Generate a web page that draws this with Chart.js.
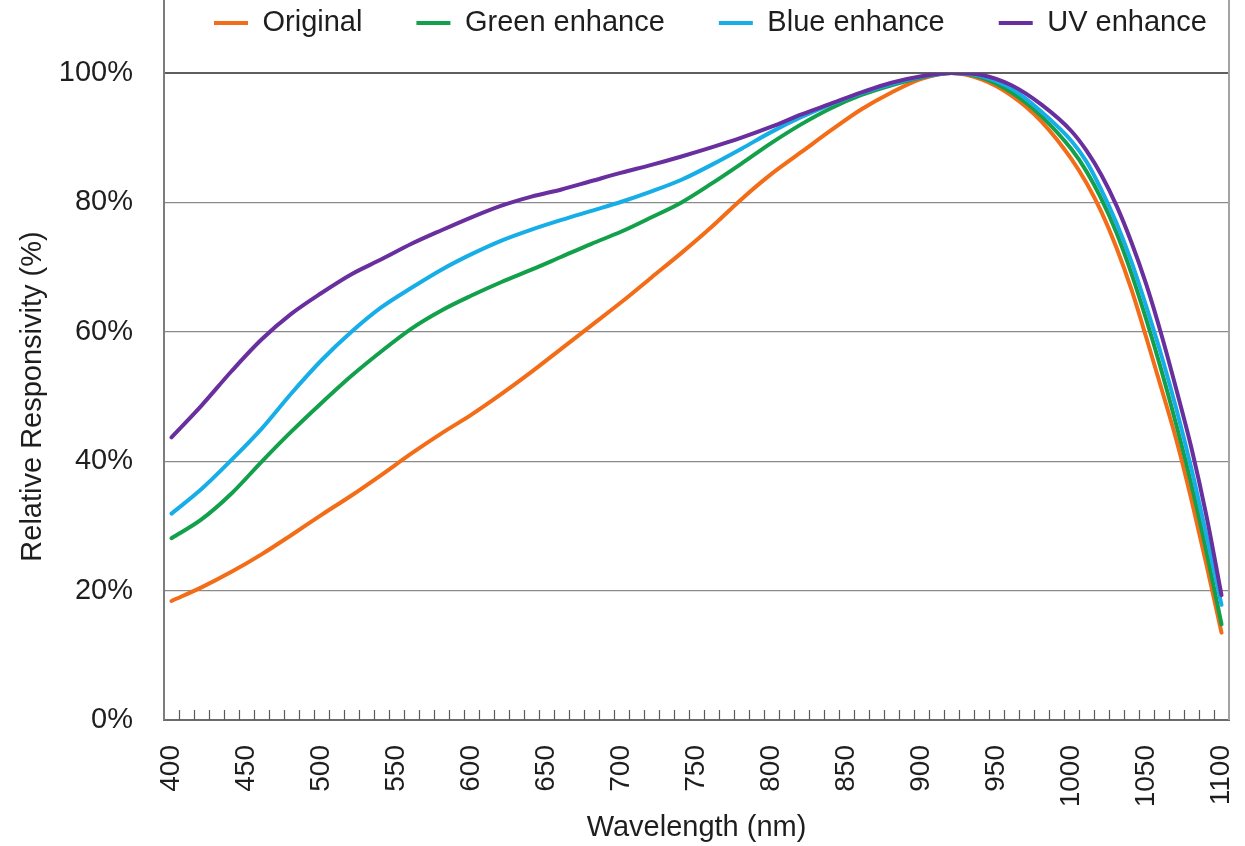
<!DOCTYPE html>
<html>
<head>
<meta charset="utf-8">
<title>Relative Responsivity</title>
<script src="https://cdn.jsdelivr.net/npm/chart.js@4.4.1/dist/chart.umd.min.js"></script>
<style>
  html, body { margin: 0; padding: 0; background: #ffffff; }
  #chart { display: block; }
</style>
</head>
<body>
<canvas id="chart" width="1245" height="846"></canvas>
<script>
// Wavelength samples (nm)
const wavelengths = [400, 420, 440, 460, 480, 500, 520, 540, 560, 580, 600, 620, 640, 660, 680, 700,
  720, 740, 760, 780, 800, 820, 840, 860, 880, 900, 920, 940, 960, 980, 1000,
  1010, 1020, 1030, 1040, 1050, 1060, 1070, 1080, 1090, 1100];

// Relative responsivity (%) of each sensor variant
const original = [18.4, 20.5, 22.9, 25.6, 28.6, 31.7, 34.7, 37.9, 41.2, 44.3, 47.2, 50.4, 53.8, 57.4, 61.0, 64.6,
  68.4, 72.2, 76.2, 80.5, 84.4, 87.8, 91.2, 94.4, 97.0, 99.1, 100, 99.0, 96.5, 92.5, 86.7,
  83.0, 78.5, 73.0, 66.5, 59.0, 51.2, 43.2, 34.0, 24.0, 13.5];
const greenEnhance = [28.1, 31.0, 35.0, 39.9, 44.6, 49.0, 53.2, 57.0, 60.5, 63.3, 65.6, 67.7, 69.6, 71.6, 73.6, 75.5,
  77.7, 80.0, 82.9, 86.0, 89.2, 92.1, 94.6, 96.6, 98.1, 99.3, 100, 99.3, 97.0, 93.3, 88.2,
  84.8, 80.5, 75.3, 69.0, 61.8, 54.0, 45.5, 36.3, 26.0, 14.8];
const blueEnhance = [31.9, 35.7, 40.2, 45.0, 50.5, 55.6, 60.0, 63.8, 66.8, 69.6, 72.0, 74.1, 75.8, 77.3, 78.7, 80.1,
  81.7, 83.5, 85.8, 88.3, 90.9, 93.2, 95.2, 96.9, 98.3, 99.4, 100, 99.5, 97.6, 94.0, 89.5,
  86.3, 81.9, 76.8, 70.8, 63.8, 56.3, 48.0, 38.8, 28.5, 17.8];
const uvEnhance = [43.7, 48.6, 53.9, 58.8, 62.8, 66.0, 68.9, 71.2, 73.6, 75.7, 77.7, 79.5, 80.9, 82.0, 83.3, 84.6,
  85.8, 87.1, 88.5, 90.0, 91.7, 93.6, 95.3, 97.0, 98.5, 99.5, 100, 99.7, 98.1, 95.1, 91.0,
  88.0, 84.2, 79.5, 73.8, 67.2, 59.5, 51.0, 42.0, 31.5, 19.3];

const seriesNames = ['Original', 'Green enhance', 'Blue enhance', 'UV enhance'];
const seriesColors = ['#f36c17', '#13a04b', '#17aee8', '#6a2f9e'];
const seriesValues = [original, greenEnhance, blueEnhance, uvEnhance];

// Axis tick labels
const xTickLabels = [400, 450, 500, 550, 600, 650, 700, 750, 800, 850, 900, 950, 1000, 1050, 1100];
const yTickValues = [0, 20, 40, 60, 80, 100];

const FONT = '"Liberation Sans", Arial, sans-serif';
const TEXT = '#1e1e1e';
const LEGEND_PAD = 54;
const LEGEND_SIZE = 29;

// Plot box edges, the inward tick marks and legend placement
const plotFrame = {
  id: 'plotFrame',
  afterLayout(chart) {
    const lg = chart.legend;
    const top = 23 - LEGEND_PAD - LEGEND_SIZE / 2;
    lg.bottom += top - lg.top;
    lg.top = top;
    const left = 214 - LEGEND_PAD;
    lg.right += left - lg.left;
    lg.left = left;
  },
  afterDraw(chart) {
    const { ctx, chartArea: a, scales: { x } } = chart;
    ctx.save();
    ctx.lineCap = 'butt';
    // right edge of the box, running up past the legend
    ctx.strokeStyle = '#a3a3a3';
    ctx.lineWidth = 2;
    ctx.beginPath();
    ctx.moveTo(a.right, 0);
    ctx.lineTo(a.right, a.bottom);
    ctx.stroke();
    // left edge continued above the top gridline
    ctx.strokeStyle = '#7d7d7d';
    ctx.beginPath();
    ctx.moveTo(a.left, 0);
    ctx.lineTo(a.left, a.top);
    ctx.stroke();
    // small tick marks between the 10 nm categories, pointing into the plot
    ctx.strokeStyle = '#5a5a5a';
    ctx.lineWidth = 1.2;
    ctx.beginPath();
    for (let v = x.min + 10; v < x.max; v += 10) {
      const px = Math.round(x.getPixelForValue(v)) + 0.5;
      ctx.moveTo(px, a.bottom - 10);
      ctx.lineTo(px, a.bottom);
    }
    ctx.stroke();
    ctx.restore();
  }
};

const datasets = seriesNames.map((name, i) => ({
  label: name,
  data: wavelengths.map((w, j) => ({ x: w, y: seriesValues[i][j] })),
  borderColor: seriesColors[i],
  backgroundColor: seriesColors[i],
  borderWidth: 4,
  pointRadius: 0,
  cubicInterpolationMode: 'monotone',
  borderCapStyle: 'round',
  order: seriesNames.length - i
}));

new Chart(document.getElementById('chart'), {
  type: 'line',
  data: { datasets },
  plugins: [plotFrame],
  options: {
    responsive: false,
    animation: false,
    devicePixelRatio: 1,
    layout: { padding: { top: -30, right: 16, bottom: 0, left: 0 } },
    plugins: {
      tooltip: { enabled: false },
      legend: {
        position: 'top',
        align: 'start',
        labels: {
          font: { family: FONT, size: LEGEND_SIZE },
          color: TEXT,
          boxWidth: 34,
          boxHeight: 4,
          padding: LEGEND_PAD,
          sort: (a, b) => a.datasetIndex - b.datasetIndex,
          generateLabels(chart) {
            const items = Chart.defaults.plugins.legend.labels.generateLabels(chart);
            items.forEach(it => { it.lineWidth = 0; });
            return items;
          }
        }
      }
    },
    scales: {
      x: {
        type: 'linear',
        min: 395,
        max: 1105,
        afterBuildTicks(s) { s.ticks = xTickLabels.map(v => ({ value: v })); },
        afterFit(s) { s.height = 126; s.paddingLeft = 0; s.paddingRight = 0; },
        grid: { drawOnChartArea: false, drawTicks: false },
        border: { display: true, color: '#6b6b6b', width: 2 },
        ticks: {
          autoSkip: false,
          maxRotation: 90,
          minRotation: 90,
          padding: 25,
          color: TEXT,
          font: { family: FONT, size: 28 },
          callback: v => String(v)
        },
        title: {
          display: true,
          text: 'Wavelength (nm)',
          color: TEXT,
          font: { family: FONT, size: 29 },
          padding: { top: 0, bottom: 1 }
        }
      },
      y: {
        min: 0,
        max: 100,
        afterBuildTicks(s) { s.ticks = yTickValues.map(v => ({ value: v })); },
        afterFit(s) { s.width = 164; s.paddingTop = 73; s.paddingBottom = 0; },
        grid: {
          drawTicks: false,
          color: c => (c.tick && c.tick.value === 100 ? '#5f5f5f' : '#8a8a8a'),
          lineWidth: c => (c.tick && c.tick.value === 100 ? 2 : 1.2)
        },
        border: { display: true, color: '#7d7d7d', width: 2 },
        ticks: {
          padding: 31,
          color: TEXT,
          font: { family: FONT, size: 29 },
          callback: v => v + '%'
        },
        title: {
          display: true,
          text: 'Relative Responsivity (%)',
          color: TEXT,
          font: { family: FONT, size: 29 },
          padding: { top: 16, bottom: 0 }
        }
      }
    }
  }
});
</script>
</body>
</html>
